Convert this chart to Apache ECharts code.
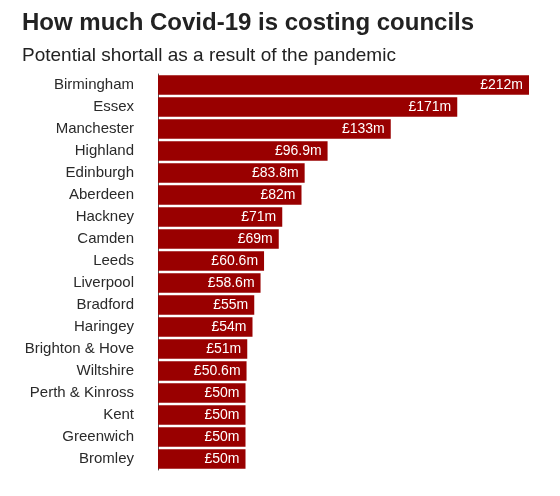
<!DOCTYPE html>
<html>
<head>
<meta charset="utf-8">
<script src="https://cdn.jsdelivr.net/npm/echarts@6/dist/echarts.min.js"></script>
<style>
  html, body { margin: 0; padding: 0; background: #fff; }
  #chart { width: 560px; height: 496px; }
</style>
</head>
<body>
<div id="chart"></div>
<script>
// councils, top to bottom
var councils = ['Birmingham', 'Essex', 'Manchester', 'Highland', 'Edinburgh', 'Aberdeen',
  'Hackney', 'Camden', 'Leeds', 'Liverpool', 'Bradford', 'Haringey', 'Brighton & Hove',
  'Wiltshire', 'Perth & Kinross', 'Kent', 'Greenwich', 'Bromley'];
// shortfall in £m
var shortfall = [212, 171, 133, 96.9, 83.8, 82, 71, 69, 60.6, 58.6, 55, 54, 51, 50.6, 50, 50, 50, 50];

var myChart = echarts.init(document.getElementById('chart'));

var option = {
  animation: false,
  title: [
    {
      text: 'How much Covid-19 is costing councils',
      left: 17,
      top: 6,
      textStyle: { fontFamily: 'Liberation Sans', fontSize: 24, fontWeight: 'bold', color: '#222' }
    },
    {
      text: 'Potential shortall as a result of the pandemic',
      left: 17,
      top: 41,
      textStyle: { fontFamily: 'Liberation Sans', fontSize: 19, fontWeight: 'normal', color: '#222' }
    }
  ],
  grid: {
    left: 158,
    right: 31,
    top: 74,
    bottom: 26
  },
  xAxis: {
    type: 'value',
    min: 0,
    max: 212,
    show: false
  },
  yAxis: {
    type: 'category',
    inverse: true,
    data: councils,
    axisLine: { show: true, lineStyle: { color: '#555', width: 1 } },
    axisTick: { show: false },
    axisLabel: {
      margin: 24,
      fontFamily: 'Liberation Sans',
      fontSize: 15,
      color: '#2a2a2a'
    }
  },
  series: [
    {
      type: 'bar',
      data: shortfall,
      barCategoryGap: '12%',
      itemStyle: { color: '#990000' },
      label: {
        show: true,
        position: 'insideRight',
        offset: [-1, 0],
        fontFamily: 'Liberation Sans',
        fontSize: 14,
        color: '#fff',
        formatter: function (p) { return '£' + p.value + 'm'; }
      }
    }
  ]
};

myChart.setOption(option);
</script>
</body>
</html>
